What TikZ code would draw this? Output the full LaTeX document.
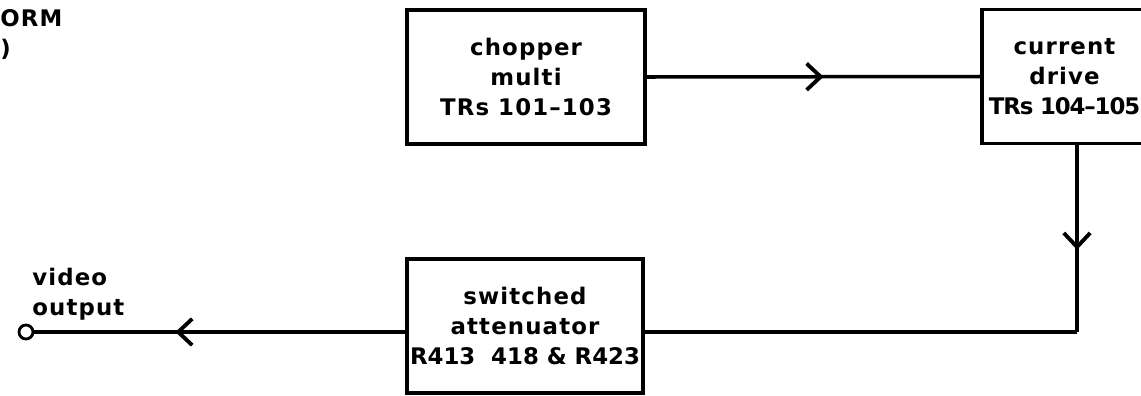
\documentclass[tikz,border=0pt]{standalone}
\usepackage{fontspec}
\setmainfont{DejaVu Sans}
\usetikzlibrary{arrows.meta,positioning,calc,decorations.markings}

\tikzset{
  blockbox/.style={draw,line width=2pt,minimum width=4.76cm,minimum height=2.68cm,align=center,inner sep=0pt},
  flowline/.style={line width=2pt},
  midarrow/.style={postaction={decorate},decoration={markings,
    mark=at position #1 with {\arrow{Straight Barb[length=8pt,width=15pt,line width=2.2pt]}}}},
}
\newcommand{\lettering}{\fontsize{13}{17}\selectfont\bfseries\addfontfeatures{LetterSpace=5}}

\begin{document}
\begin{tikzpicture}[font=\lettering]
  \useasboundingbox (0,0) rectangle (22.82,-7.9);
  % blocks
  \node[blockbox] (chopper) at (10.52,-1.54) {chopper\\multi\\TRs 101--103};
  \node[blockbox,minimum width=3.3cm] (drive) at (21.29,-1.53)
    {current\\drive\\{\addfontfeatures{LetterSpace=-5}TRs 104--105}};
  \node[blockbox,minimum width=4.72cm] (atten) at (10.5,-6.52)
    {switched\\attenuator\\{\addfontfeatures{LetterSpace=0}R413\ \ 418 \& R423}};
  % output terminal
  \node[circle,draw,line width=1.6pt,minimum size=0.28cm,inner sep=0pt] (vout) at (0.52,-6.64) {};
  \node[anchor=south west,align=left,inner sep=0pt,yshift=3pt] (vlabel) at (vout.north east) {video\\output};
  \node[anchor=north west,align=left,inner sep=0pt] (title) at (0,-0.18) {ORM\\)};
  \coordinate (turn) at (21.54,-6.64);
  % signal path
  \draw[flowline,midarrow=0.53] (chopper.east) -- (drive.west);
  \draw[flowline,midarrow=0.56] (drive.south -| turn) -- (turn);
  \draw[flowline] (turn) -- (atten.east |- turn);
  \draw[flowline,midarrow=0.62] (atten.west |- turn) -- (vout.east);
\end{tikzpicture}
\end{document}
